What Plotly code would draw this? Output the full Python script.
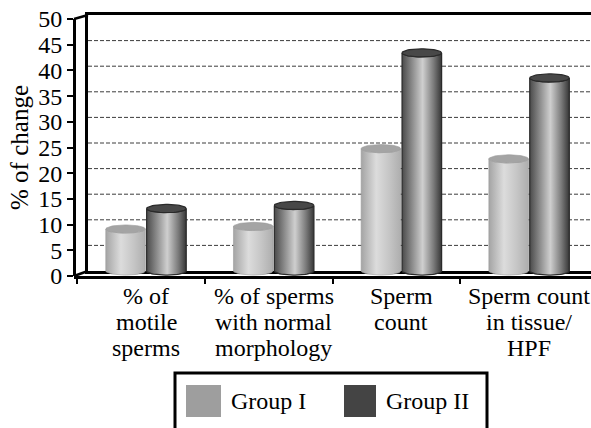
import numpy as np
import plotly.graph_objects as go

# ---------------- data ----------------
category_lines = [
    ["% of", "motile", "sperms"],
    ["% of sperms", "with normal", "morphology"],
    ["Sperm", "count"],
    ["Sperm count", "in tissue/", "HPF"],
]
series_names = ["Group I", "Group II"]
group1 = [8.2, 8.7, 23.9, 21.9]
group2 = [12.2, 12.8, 42.6, 37.7]
y_tick_values = [0, 5, 10, 15, 20, 25, 30, 35, 40, 45, 50]
y_title = "% of change"

# ---------------- geometry helpers (pixels -> paper) ----------------
W, H = 591, 428
def px(x):
    return x / W
def py(y):
    return 1 - y / H

CAT0_PX = 146.0   # pixel of category 0 centre on back wall
CAT_PX = 127.7    # pixels per category
FONT = "Liberation Serif"

fig = go.Figure()

styles = [
    dict(body=[[0, "#a4a4a4"], [0.38, "#dcdcdc"], [0.7, "#c6c6c6"], [1, "#aeaeae"]],
         top="#a4a4a4", line="#9a9a9a", lw=0.6, swatch="#9e9e9e"),
    dict(body=[[0, "#4a4a4a"], [0.52, "#cfcfcf"], [0.8, "#7a7a7a"], [1, "#363636"]],
         top="#484848", line="#2a2a2a", lw=1.2, swatch="#444444"),
]
offsets = [-0.16, 0.16]
half_w = 0.155
ell_b = 0.8

for si, values in enumerate([group1, group2]):
    st = styles[si]
    for k, v in enumerate(values):
        cx = k + offsets[si]
        t_top = np.linspace(np.pi, 2 * np.pi, 30)
        t_bot = np.linspace(0, -np.pi, 30)
        xs = np.concatenate([[cx - half_w, cx - half_w],
                             cx + half_w * np.cos(t_top),
                             [cx + half_w, cx + half_w],
                             cx + half_w * np.cos(t_bot)])
        ys = np.concatenate([[0, v],
                             v + ell_b * np.sin(t_top),
                             [v, 0],
                             0 + ell_b * np.sin(t_bot)])
        fig.add_trace(go.Scatter(
            x=xs, y=ys, xaxis="x", yaxis="y3", mode="lines", fill="toself",
            line=dict(color=st["line"], width=st["lw"]),
            fillgradient=dict(type="horizontal", colorscale=st["body"]),
            hoverinfo="skip", showlegend=False, name=series_names[si]))
        t = np.linspace(0, 2 * np.pi, 60)
        fig.add_trace(go.Scatter(
            x=cx + half_w * np.cos(t), y=v + ell_b * np.sin(t),
            xaxis="x", yaxis="y3", mode="lines", fill="toself",
            fillcolor=st["top"], line=dict(color=st["line"], width=st["lw"]),
            hoverinfo="skip", showlegend=False, name=series_names[si]))

# dummy traces so every axis pair exists
fig.add_trace(go.Scatter(x=[None], y=[None], xaxis="x2", yaxis="y2",
                         showlegend=False, hoverinfo="skip"))
fig.add_trace(go.Scatter(x=[None], y=[None], xaxis="x", yaxis="y",
                         showlegend=False, hoverinfo="skip"))

x_back_range = [(88 - CAT0_PX) / CAT_PX, (W - CAT0_PX) / CAT_PX]
front_shift = 5
x_front_range = [(74 - (CAT0_PX - front_shift)) / CAT_PX,
                 (W - (CAT0_PX - front_shift)) / CAT_PX]

fig.update_layout(
    width=W, height=H,
    margin=dict(l=0, r=0, t=0, b=0, pad=0, autoexpand=False),
    paper_bgcolor="white", plot_bgcolor="rgba(0,0,0,0)",
    showlegend=False,
    font=dict(family=FONT, size=24, color="black"),
    xaxis=dict(domain=[px(88), 1], range=x_back_range, anchor="y",
               showgrid=False, zeroline=False, showticklabels=False, ticks="",
               showline=True, mirror=True, linecolor="black", linewidth=2.5,
               layer="below traces", fixedrange=True),
    yaxis=dict(domain=[py(271), py(15)], range=[0, 50], anchor="x",
               tickvals=y_tick_values, showticklabels=False, ticks="",
               showgrid=False, zeroline=False, showline=True, linecolor="black",
               linewidth=2.5, layer="below traces", fixedrange=True),
    yaxis3=dict(domain=[py(271 + 1.5 * 256 / 50), py(15)], range=[-1.5, 50],
                anchor="x", visible=False, fixedrange=True),
    xaxis2=dict(domain=[px(74), 1], range=x_front_range, anchor="y2",
                tickvals=[k + 0.5 for k in range(-1, len(category_lines) - 1)],
                ticks="outside", ticklen=5, tickwidth=2, tickcolor="black",
                showticklabels=False, showgrid=False, zeroline=False,
                showline=True, linecolor="black", linewidth=3, fixedrange=True),
    yaxis2=dict(domain=[py(276), py(19)], range=[0, 50], anchor="free",
                position=px(74), side="left",
                tickvals=y_tick_values, ticks="outside", ticklen=6, tickwidth=2,
                tickcolor="black", tickfont=dict(family=FONT, size=24, color="black"),
                showgrid=False, zeroline=False, showline=True, linecolor="black",
                linewidth=3,
                title=dict(text=y_title, font=dict(family=FONT, size=25), standoff=1),
                fixedrange=True),
)

# dashed gridlines on the back wall, placed on the y scale
for v in y_tick_values[1:-1]:
    fig.add_shape(type="line", xref="paper", yref="y", layer="below",
                  x0=px(88), x1=1, y0=v, y1=v,
                  line=dict(color="#3c3c3c", width=1, dash="4px,2px"))

# 3D corner connectors
fig.add_shape(type="line", xref="paper", yref="paper",
              x0=px(74), y0=py(19), x1=px(88), y1=py(15),
              line=dict(color="black", width=2.5))
fig.add_shape(type="line", xref="paper", yref="paper",
              x0=px(74), y0=py(276), x1=px(88), y1=py(271),
              line=dict(color="black", width=2.5))

# category labels (one annotation per line for tight spacing)
line_centres = [296, 322, 348]
for k, lines in enumerate(category_lines):
    for li, txt in enumerate(lines):
        fig.add_annotation(x=k, xref="x", y=py(line_centres[li]), yref="paper",
                           text=txt, showarrow=False, xanchor="center",
                           yanchor="middle", font=dict(family=FONT, size=24))

# legend box drawn manually
fig.add_shape(type="rect", xref="paper", yref="paper",
              x0=px(175), y0=py(373), x1=px(487), y1=py(432),
              line=dict(color="black", width=3), fillcolor="white")
legend_x = [(186, 221, 229), (344, 376, 384)]
for si, (sx0, sx1, tx) in enumerate(legend_x):
    fig.add_shape(type="rect", xref="paper", yref="paper",
                  x0=px(sx0), y0=py(385), x1=px(sx1), y1=py(417),
                  line=dict(width=0), fillcolor=styles[si]["swatch"])
    fig.add_annotation(x=px(tx), y=py(401), xref="paper", yref="paper",
                       text=series_names[si], showarrow=False,
                       xanchor="left", yanchor="middle",
                       font=dict(family=FONT, size=24))

fig.write_html("out.html", config={"displayModeBar": False},
               post_script="document.body.style.margin='0';"
                           "document.body.style.overflow='hidden';")
